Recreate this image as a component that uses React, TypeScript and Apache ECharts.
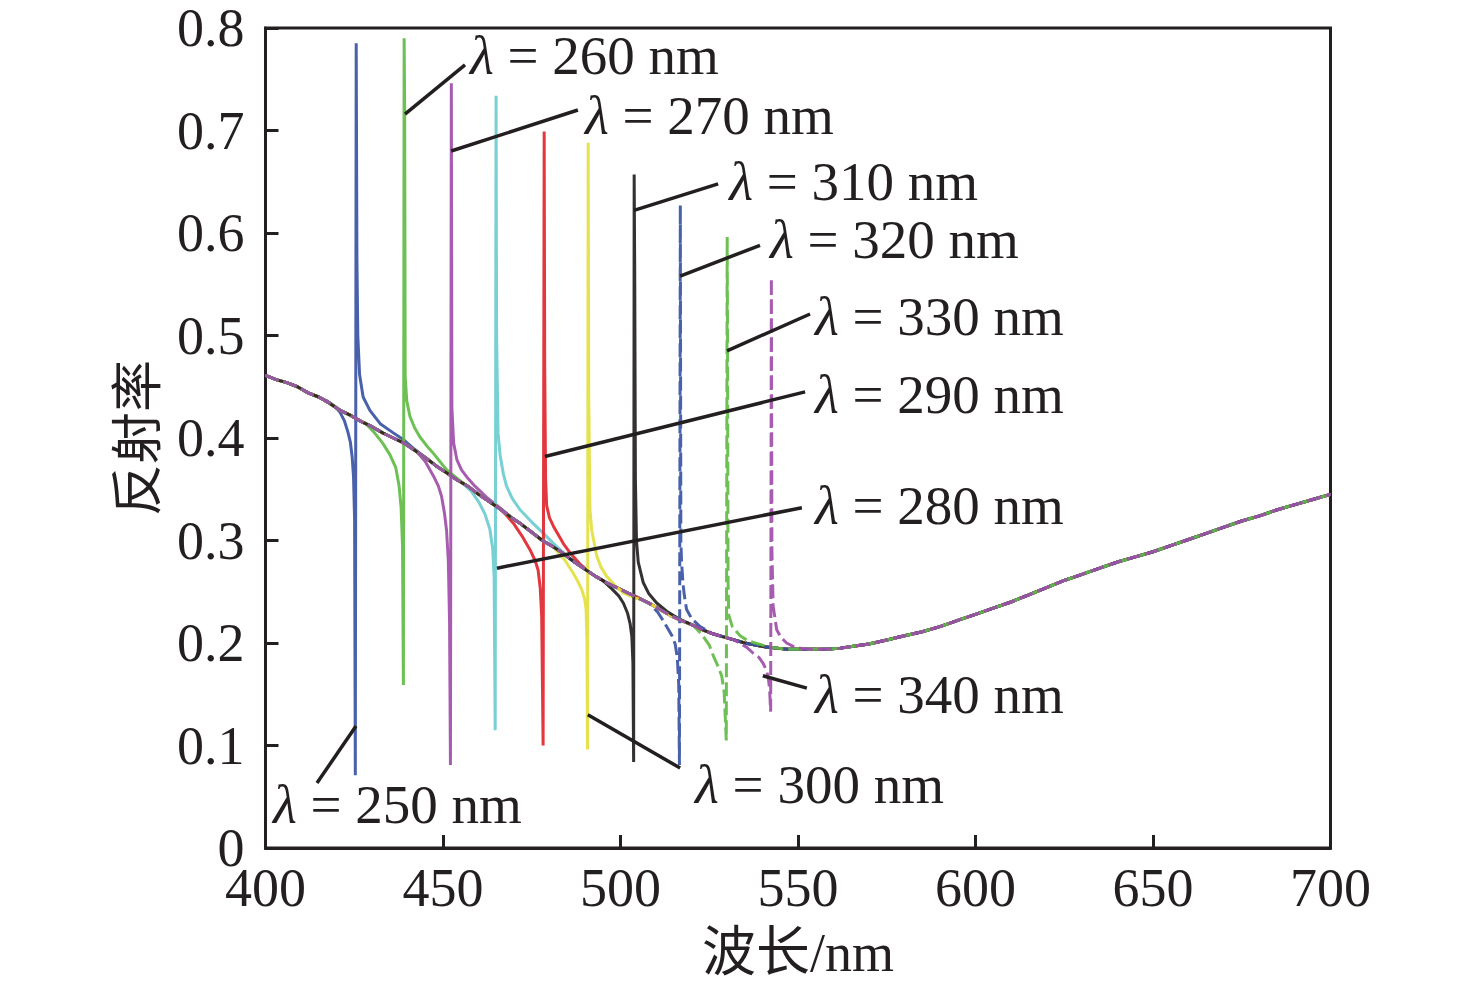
import React, { useEffect, useRef } from "react";
import * as echarts from "echarts";

// ---------- data ----------
const X_MIN = 400;
const X_MAX = 700;
const X_STEP = 50;
const Y_MIN = 0;
const Y_MAX = 0.8;
const Y_STEP = 0.1;

// common background reflectance curve [wavelength nm, reflectance]
const BASE: [number, number][] = [
  [400, 0.461], [403, 0.457], [406, 0.454], [409, 0.45], [412, 0.444], [415, 0.44],
  [418, 0.434], [421, 0.427], [424, 0.422], [427, 0.416], [430, 0.411], [433, 0.405],
  [436, 0.4], [439, 0.395], [442, 0.388], [445, 0.381], [448, 0.373], [451, 0.366],
  [454, 0.359], [457, 0.353], [460, 0.345], [463, 0.338], [466, 0.331], [469, 0.323],
  [472, 0.316], [475, 0.308], [478, 0.3], [481, 0.294], [484, 0.287], [487, 0.279],
  [490, 0.272], [493, 0.265], [496, 0.259], [499, 0.254], [502, 0.249], [505, 0.244],
  [508, 0.239], [511, 0.233], [514, 0.227], [517, 0.222], [520, 0.218], [523, 0.213],
  [526, 0.209], [529, 0.206], [532, 0.203], [535, 0.2], [538, 0.198], [541, 0.196],
  [544, 0.195], [547, 0.194], [550, 0.194], [554, 0.194], [558, 0.194], [562, 0.195],
  [566, 0.197], [570, 0.199], [575, 0.203], [580, 0.207], [585, 0.211], [590, 0.216],
  [595, 0.222], [600, 0.228], [605, 0.234], [610, 0.24], [615, 0.247], [620, 0.254],
  [625, 0.261], [630, 0.267], [635, 0.273], [640, 0.279], [645, 0.284], [650, 0.289],
  [655, 0.295], [660, 0.301], [665, 0.307], [670, 0.313], [675, 0.319], [680, 0.324],
  [685, 0.33], [690, 0.335], [695, 0.34], [700, 0.345],
];

// resonance regions of each curve
const R250: [number, number][] = [
  [417.5, 0.436], [419.5, 0.431], [421, 0.425], [422.2, 0.417], [423.2, 0.406], [423.9, 0.396],
  [424.4, 0.382], [424.8, 0.362], [425.1, 0.32], [425.3, 0.071], [425.55, 0.785], [425.75, 0.575],
  [426.0, 0.5], [426.5, 0.462], [427.5, 0.44], [429.4, 0.427], [432.3, 0.414], [436, 0.405],
  [439, 0.398], [442, 0.389],
];
const R260: [number, number][] = [
  [428, 0.415], [430.5, 0.406], [433, 0.395], [435, 0.384], [436.7, 0.371], [437.6, 0.354],
  [438.2, 0.332], [438.6, 0.295], [438.85, 0.159], [439.05, 0.79], [439.2, 0.722], [439.35, 0.46],
  [439.8, 0.436], [440.7, 0.421], [442, 0.41], [443.5, 0.401], [445.5, 0.392], [447.3, 0.385],
  [451, 0.369], [454.5, 0.359],
];
const R270: [number, number][] = [
  [442.5, 0.387], [445, 0.377], [447.3, 0.363], [448.7, 0.353], [449.6, 0.343], [450.4, 0.327],
  [451.0, 0.31], [451.5, 0.28], [451.85, 0.22], [452.1, 0.081], [452.35, 0.746], [452.5, 0.43],
  [453, 0.395], [453.9, 0.379], [455.2, 0.369], [456.7, 0.362], [459, 0.353], [462.3, 0.342],
  [466, 0.332], [469.5, 0.322],
];
const R280: [number, number][] = [
  [455.5, 0.356], [458, 0.348], [460, 0.338], [461.8, 0.326], [463.2, 0.311], [464.0, 0.292],
  [464.4, 0.265], [464.7, 0.115], [464.95, 0.734], [465.1, 0.5], [465.5, 0.405], [466.1, 0.383],
  [467, 0.365], [467.9, 0.353], [469.5, 0.341], [471.7, 0.33], [475, 0.318], [478.3, 0.307],
  [482, 0.294], [485, 0.285],
];
const R290: [number, number][] = [
  [467.5, 0.326], [470, 0.316], [472.5, 0.303], [474.5, 0.291], [476.0, 0.28], [476.8, 0.271],
  [477.4, 0.253], [477.8, 0.226], [478.2, 0.1], [478.5, 0.699], [478.65, 0.47], [478.9, 0.36],
  [479.2, 0.334], [480, 0.322], [481.1, 0.314], [483.9, 0.297], [486, 0.287], [488.6, 0.277],
  [492, 0.267], [495, 0.261],
];
const R300: [number, number][] = [
  [481.5, 0.292], [484.3, 0.281], [486.7, 0.268], [488, 0.26], [489.1, 0.252], [489.9, 0.243],
  [490.3, 0.233], [490.55, 0.2], [490.7, 0.096], [490.9, 0.688], [491.05, 0.44], [491.4, 0.33],
  [491.9, 0.31], [493.3, 0.285], [494.5, 0.274], [496.1, 0.265], [498.5, 0.256], [500.8, 0.249],
  [504, 0.244], [507, 0.241],
];
const R310: [number, number][] = [
  [495, 0.261], [497.5, 0.253], [499.5, 0.246], [500.8, 0.239], [502.0, 0.229], [502.7, 0.219],
  [503.2, 0.206], [503.5, 0.18], [503.7, 0.084], [503.85, 0.657], [504.0, 0.566], [504.2, 0.36],
  [504.5, 0.3], [505, 0.279], [506.4, 0.259], [508, 0.248], [510.2, 0.239], [513, 0.231],
  [516.8, 0.223], [520, 0.218],
];
const R320: [number, number][] = [
  [508, 0.239], [510.5, 0.23], [512, 0.222], [513, 0.216], [514.5, 0.207], [515.4, 0.199],
  [516.0, 0.186], [516.4, 0.16], [516.6, 0.081], [516.85, 0.627], [517.0, 0.3], [517.2, 0.279],
  [517.6, 0.258], [518.0, 0.246], [518.6, 0.233], [520, 0.224], [522.4, 0.216], [526, 0.209],
];
const R330: [number, number][] = [
  [520.5, 0.217], [523, 0.208], [525, 0.198], [526.1, 0.188], [527.5, 0.177], [528.5, 0.168],
  [529.2, 0.152], [529.8, 0.105], [530.05, 0.596], [530.15, 0.5], [530.3, 0.26], [530.5, 0.227],
  [531.5, 0.216], [533.7, 0.207], [536, 0.202], [538.4, 0.1995], [541.5, 0.1965],
];
const R340: [number, number][] = [
  [532.5, 0.202], [535.5, 0.196], [537.4, 0.19], [539, 0.186], [540.2, 0.18], [541.0, 0.174],
  [541.6, 0.167], [542.0, 0.155], [542.3, 0.133], [542.5, 0.556], [542.65, 0.29], [543.0, 0.236],
  [544, 0.213], [545.3, 0.205], [546.8, 0.2], [549, 0.196], [552, 0.194],
];

const SERIES_NAMES = ["250 nm", "260 nm", "270 nm", "280 nm", "290 nm", "300 nm", "310 nm", "320 nm", "330 nm", "340 nm"];
const RESONANCES = [R250, R260, R270, R280, R290, R300, R310, R320, R330, R340];
const COLORS = ["#3953a4", "#62bb46", "#a04fa8", "#6dcbd0", "#e0262f", "#e3e041", "#231f20", "#3953a4", "#62bb46", "#a04fa8"];
const DASHED = [false, false, false, false, false, false, false, true, true, true];

// annotations (data coordinates)
const LABEL_TEXTS = [
  "{l|λ} = 250 nm", "{l|λ} = 260 nm", "{l|λ} = 270 nm", "{l|λ} = 280 nm", "{l|λ} = 290 nm",
  "{l|λ} = 300 nm", "{l|λ} = 310 nm", "{l|λ} = 320 nm", "{l|λ} = 330 nm", "{l|λ} = 340 nm",
];
const LABEL_POS: [number, number][] = [
  [402.1, 0.0429], [457.6, 0.7727], [490.0, 0.7151], [554.8, 0.3346], [554.8, 0.4429],
  [521.0, 0.0615], [530.6, 0.6507], [542.1, 0.5941], [554.8, 0.519], [554.8, 0.1493],
];
const LEADER_FROM: [number, number][] = [
  [425.5, 0.119], [439.3, 0.716], [452.3, 0.68], [465.2, 0.273], [478.7, 0.382],
  [490.8, 0.13], [503.8, 0.622], [516.8, 0.558], [530.0, 0.485], [540.1, 0.168],
];
const LEADER_TO: [number, number][] = [
  [414.5, 0.0634], [456.2, 0.764], [488.0, 0.72], [551.1, 0.332], [552.0, 0.445],
  [516.8, 0.078], [527.5, 0.648], [539.3, 0.588], [553.4, 0.521], [552.5, 0.156],
];

const X_TITLE = "波长/nm";
const Y_TITLE = "反射率";

// ---------- chart ----------
const INK = "#231f20";
const SERIF = '"Liberation Serif", "Times New Roman", serif';
const MIXED = '"Liberation Serif", "Noto Sans CJK SC", serif';

function buildCurve(res: [number, number][]): [number, number][] {
  const lo = res[0][0];
  const hi = res[res.length - 1][0];
  return BASE.filter((p) => p[0] < lo).concat(res, BASE.filter((p) => p[0] > hi));
}

export default function App() {
  const ref = useRef<HTMLDivElement>(null);

  useEffect(() => {
    if (!ref.current) return;
    const chart = echarts.init(ref.current, null, { renderer: "svg" });

    const series = RESONANCES.map((res, i) => ({
      name: SERIES_NAMES[i],
      type: "line",
      data: buildCurve(res),
      showSymbol: false,
      symbol: "none",
      silent: true,
      z: 2 + i,
      lineStyle: {
        color: COLORS[i],
        width: 3,
        type: DASHED[i] ? [14, 5] : "solid",
        opacity: 0.92,
      },
      emphasis: { disabled: true },
    }));

    chart.setOption({
      animation: false,
      backgroundColor: "#ffffff",
      grid: {
        left: 265.5,
        top: 28,
        width: 1065,
        height: 820,
        show: true,
        borderColor: INK,
        borderWidth: 3,
        backgroundColor: "transparent",
      },
      xAxis: {
        type: "value",
        min: X_MIN,
        max: X_MAX,
        interval: X_STEP,
        name: X_TITLE,
        nameLocation: "middle",
        nameGap: 78,
        nameTextStyle: { fontFamily: MIXED, fontSize: 54, color: INK },
        axisLine: { show: true, lineStyle: { color: INK, width: 3 } },
        axisTick: { show: true, inside: true, length: 13, lineStyle: { color: INK, width: 3 } },
        axisLabel: { fontFamily: SERIF, fontSize: 54, color: INK, margin: 13 },
        splitLine: { show: false },
      },
      yAxis: {
        type: "value",
        min: Y_MIN,
        max: Y_MAX,
        interval: Y_STEP,
        name: Y_TITLE,
        nameLocation: "middle",
        nameGap: 106,
        nameTextStyle: { fontFamily: '"Noto Sans CJK SC", sans-serif', fontSize: 52, color: INK },
        axisLine: { show: true, lineStyle: { color: INK, width: 3 } },
        axisTick: { show: true, inside: true, length: 13, lineStyle: { color: INK, width: 3 } },
        axisLabel: { fontFamily: SERIF, fontSize: 54, color: INK, margin: 21 },
        splitLine: { show: false },
      },
      series,
    });

    const toPx = (p: [number, number]) => chart.convertToPixel({ gridIndex: 0 }, p) as number[];
    const graphics: any[] = [];
    LEADER_FROM.forEach((from, i) => {
      const a = toPx(from);
      const b = toPx(LEADER_TO[i]);
      graphics.push({
        type: "line",
        z: 100,
        silent: true,
        shape: { x1: a[0], y1: a[1], x2: b[0], y2: b[1] },
        style: { stroke: INK, lineWidth: 3.5 },
      });
    });
    LABEL_TEXTS.forEach((t, i) => {
      const p = toPx(LABEL_POS[i]);
      graphics.push({
        type: "text",
        z: 100,
        silent: true,
        x: p[0],
        y: p[1],
        style: {
          text: t,
          fill: INK,
          fontFamily: SERIF,
          fontSize: 55,
          align: "left",
          verticalAlign: "middle",
          rich: {
            l: { fontFamily: SERIF, fontStyle: "italic", fontSize: 55, fill: INK },
          },
        },
      });
    });
    chart.setOption({ graphic: graphics });

    return () => chart.dispose();
  }, []);

  return (
    <div
      ref={ref}
      style={{ position: "absolute", left: 0, top: 0, width: 1476, height: 991, background: "#fff" }}
    />
  );
}
